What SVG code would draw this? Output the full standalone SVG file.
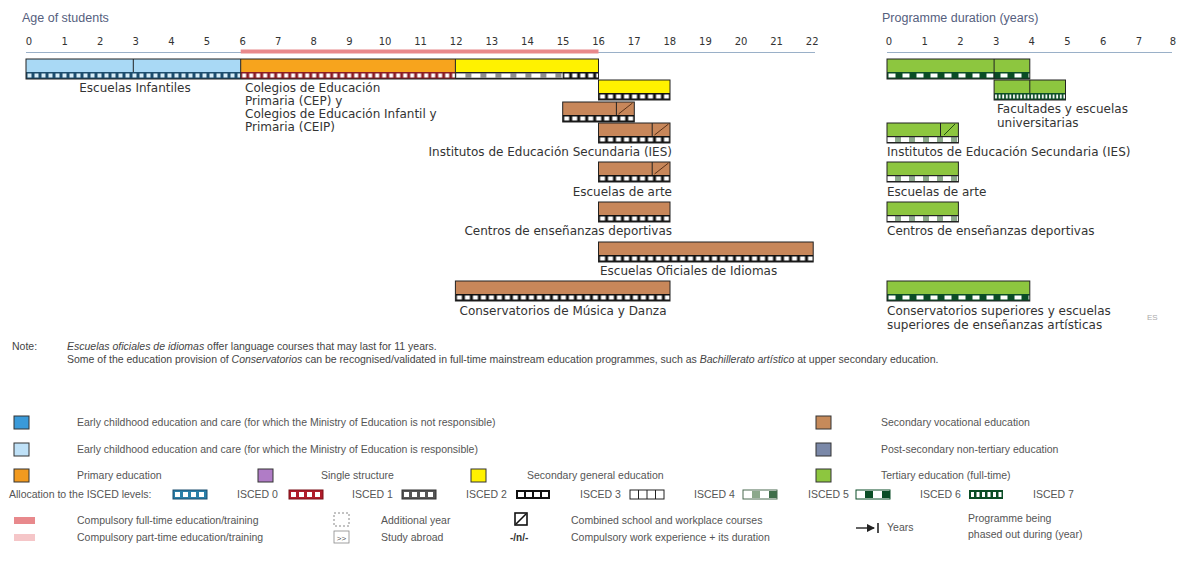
<svg xmlns="http://www.w3.org/2000/svg" width="1178" height="574" viewBox="0 0 1178 574">
<style>
.ax{font-family:"Liberation Sans",Arial,sans-serif;font-size:12.5px;fill:#55607e}
.tk{font-family:"DejaVu Sans",Verdana,sans-serif;font-size:10px;fill:#333;text-anchor:middle}
.lb{font-family:"DejaVu Sans",Verdana,sans-serif;font-size:12px;fill:#333}
.nt{font-family:"Liberation Sans",Arial,sans-serif;font-size:10.5px;fill:#444}
.lg{font-family:"Liberation Sans",Arial,sans-serif;font-size:10.5px;fill:#555}
.frame{fill:none;stroke:#222;stroke-width:1}
.sep{stroke:#222;stroke-width:1}
.blue{fill:#a9d9f5}.orange{fill:#f7a41d}.yellow{fill:#fff200}.brown{fill:#c8875a}.green{fill:#8dc63f}
.hatch{stroke:#5a3218;stroke-width:1;fill:none}
.hatchg{stroke:#1f4d10;stroke-width:1;fill:none}
.sw{stroke:#333;stroke-width:1}
</style>
<defs>
<pattern id="p0" patternUnits="userSpaceOnUse" width="7" height="7"><rect width="7" height="7" fill="#1d4e6e"/><rect x="1.5" y="1.5" width="4" height="4" fill="#d8eef8"/></pattern>
<pattern id="p1" patternUnits="userSpaceOnUse" width="7" height="7"><rect width="7" height="7" fill="#8a1c24"/><rect x="1.5" y="1.5" width="4" height="4" fill="#fff"/></pattern>
<pattern id="p2" patternUnits="userSpaceOnUse" width="15" height="7"><rect width="15" height="7" fill="#8f8f8f"/><rect x="1" y="1.5" width="9" height="4" fill="#fff"/><rect y="0" width="15" height="1.2" fill="#222"/><rect y="6" width="15" height="1" fill="#222"/></pattern>
<pattern id="p3" patternUnits="userSpaceOnUse" width="8" height="7"><rect width="8" height="7" fill="#111"/><rect x="1.5" y="1.5" width="5" height="4" fill="#fff"/></pattern>
<pattern id="p5" patternUnits="userSpaceOnUse" width="14" height="7"><rect width="14" height="7" fill="#fff"/><rect x="8" y="0" width="6" height="7" fill="#8ca88c"/><rect width="14" height="1.2" fill="#222"/><rect y="6" width="14" height="1" fill="#222"/></pattern>
<pattern id="p6" patternUnits="userSpaceOnUse" width="14" height="7"><rect width="14" height="7" fill="#0b4d26"/><rect x="1.5" y="1.5" width="7" height="4" fill="#fff"/></pattern>
<pattern id="p7" patternUnits="userSpaceOnUse" width="3.6" height="7"><rect width="3.6" height="7" fill="#0b4d26"/><rect x="1" y="1.5" width="1.8" height="4" fill="#fff"/></pattern>
<marker id="arr" viewBox="0 0 8 8" refX="7" refY="4" markerWidth="6" markerHeight="6" orient="auto"><path d="M0,0 L8,4 L0,8 z" fill="#222"/></marker>
</defs>

<!-- axes -->
<g id="age-axis">
<text class="ax" x="22" y="22">Age of students</text>
<line x1="26" y1="52.5" x2="815" y2="52.5" stroke="#9ab0c8" stroke-width="1.2"/>
<line x1="240.7" y1="51.5" x2="598.5" y2="51.5" stroke="#e8898c" stroke-width="4"/>
<text class="tk" y="45"><tspan x="29">0</tspan><tspan x="64.6">1</tspan><tspan x="100.2">2</tspan><tspan x="135.8">3</tspan><tspan x="171.4">4</tspan><tspan x="207">5</tspan><tspan x="242.6">6</tspan><tspan x="278.2">7</tspan><tspan x="313.8">8</tspan><tspan x="349.4">9</tspan><tspan x="385">10</tspan><tspan x="420.6">11</tspan><tspan x="456.2">12</tspan><tspan x="491.8">13</tspan><tspan x="527.4">14</tspan><tspan x="563">15</tspan><tspan x="598.6">16</tspan><tspan x="634.2">17</tspan><tspan x="669.8">18</tspan><tspan x="705.4">19</tspan><tspan x="741">20</tspan><tspan x="776.6">21</tspan><tspan x="812.2">22</tspan></text>
</g>
<g id="duration-axis">
<text class="ax" x="882" y="22">Programme duration (years)</text>
<line x1="887" y1="52.5" x2="1172" y2="52.5" stroke="#9ab0c8" stroke-width="1.2"/>
<text class="tk" y="45"><tspan x="889">0</tspan><tspan x="924.7">1</tspan><tspan x="960.4">2</tspan><tspan x="996.1">3</tspan><tspan x="1031.8">4</tspan><tspan x="1067.5">5</tspan><tspan x="1103.2">6</tspan><tspan x="1138.9">7</tspan><tspan x="1173">8</tspan></text>
</g>

<!-- left bars -->
<g id="escuelas-infantiles">
<rect class="blue" x="26" y="59" width="214.7" height="13"/>
<rect x="0" y="0" width="214.7" height="7" fill="url(#p0)" transform="translate(26,72)"/>
<line class="sep" x1="133.3" y1="59" x2="133.3" y2="72"/>
<text class="lb" x="135" y="92" text-anchor="middle">Escuelas Infantiles</text>
</g>
<g id="colegios">
<rect class="orange" x="240.7" y="59" width="214.7" height="13"/>
<rect x="0" y="0" width="214.7" height="7" fill="url(#p1)" transform="translate(240.7,72)"/>
<line class="sep" x1="240.7" y1="59" x2="240.7" y2="79"/>
<text class="lb" x="245" y="92">Colegios de Educación</text>
<text class="lb" x="245" y="105">Primaria (CEP) y</text>
<text class="lb" x="245" y="118">Colegios de Educación Infantil y</text>
<text class="lb" x="245" y="131">Primaria (CEIP)</text>
</g>
<g id="secundaria-general">
<rect class="yellow" x="455.4" y="59" width="143.1" height="13"/>
<rect x="0" y="0" width="107.3" height="7" fill="url(#p2)" transform="translate(455.4,72)"/>
<rect x="0" y="0" width="35.8" height="7" fill="url(#p3)" transform="translate(562.7,72)"/>
<line class="sep" x1="455.4" y1="59" x2="455.4" y2="79"/>
</g>
<rect class="frame" x="26" y="59" width="572.5" height="20"/>

<g id="bachillerato">
<rect class="yellow" x="598.5" y="80" width="71.5" height="13"/>
<rect x="0" y="0" width="71.5" height="7" fill="url(#p3)" transform="translate(598.5,93)"/>
<rect class="frame" x="598.5" y="80" width="71.5" height="20"/>
</g>
<g id="fp-basica">
<rect class="brown" x="562.7" y="102" width="71.6" height="13"/>
<rect x="0" y="0" width="71.6" height="7" fill="url(#p3)" transform="translate(562.7,115)"/>
<line class="sep" x1="616.4" y1="102" x2="616.4" y2="115"/>
<line class="hatch" x1="618.5" y1="114" x2="632.5" y2="103"/>
<rect class="frame" x="562.7" y="102" width="71.6" height="20"/>
</g>
<g id="ies">
<rect class="brown" x="598.5" y="123" width="71.5" height="13"/>
<rect x="0" y="0" width="71.5" height="7" fill="url(#p3)" transform="translate(598.5,136)"/>
<line class="sep" x1="652.2" y1="123" x2="652.2" y2="136"/>
<line class="hatch" x1="654.5" y1="135" x2="668.5" y2="124"/>
<rect class="frame" x="598.5" y="123" width="71.5" height="20"/>
<text class="lb" x="672" y="156" text-anchor="end">Institutos de Educación Secundaria (IES)</text>
</g>
<g id="escuelas-arte">
<rect class="brown" x="598.5" y="162" width="71.5" height="13"/>
<rect x="0" y="0" width="71.5" height="7" fill="url(#p3)" transform="translate(598.5,175)"/>
<line class="sep" x1="652.2" y1="162" x2="652.2" y2="175"/>
<line class="hatch" x1="654.5" y1="174" x2="668.5" y2="163"/>
<rect class="frame" x="598.5" y="162" width="71.5" height="20"/>
<text class="lb" x="672" y="196" text-anchor="end">Escuelas de arte</text>
</g>
<g id="centros-deportivas">
<rect class="brown" x="598.5" y="202" width="71.5" height="13"/>
<rect x="0" y="0" width="71.5" height="7" fill="url(#p3)" transform="translate(598.5,215)"/>
<rect class="frame" x="598.5" y="202" width="71.5" height="20"/>
<text class="lb" x="672" y="235" text-anchor="end">Centros de enseñanzas deportivas</text>
</g>
<g id="escuelas-idiomas">
<rect class="brown" x="598.5" y="242" width="214.7" height="13"/>
<rect x="0" y="0" width="214.7" height="7" fill="url(#p3)" transform="translate(598.5,255)"/>
<rect class="frame" x="598.5" y="242" width="214.7" height="20"/>
<text class="lb" x="600" y="275">Escuelas Oficiales de Idiomas</text>
</g>
<g id="conservatorios">
<rect class="brown" x="455.4" y="281" width="214.6" height="13"/>
<rect x="0" y="0" width="214.6" height="7" fill="url(#p3)" transform="translate(455.4,294)"/>
<rect class="frame" x="455.4" y="281" width="214.6" height="20"/>
<text class="lb" x="563" y="315" text-anchor="middle">Conservatorios de Música y Danza</text>
</g>

<!-- right bars -->
<g id="grado">
<rect class="green" x="887" y="59" width="142.8" height="13"/>
<rect x="0" y="0" width="142.8" height="7" fill="url(#p6)" transform="translate(887,72)"/>
<line class="sep" x1="994.1" y1="59" x2="994.1" y2="79"/>
<rect class="frame" x="887" y="59" width="142.8" height="20"/>
</g>
<g id="facultades">
<rect class="green" x="994.1" y="80" width="71.4" height="13"/>
<rect x="0" y="0" width="71.4" height="7" fill="url(#p7)" transform="translate(994.1,93)"/>
<line class="sep" x1="1029.8" y1="80" x2="1029.8" y2="93"/>
<rect class="frame" x="994.1" y="80" width="71.4" height="20"/>
<text class="lb" x="997" y="113">Facultades y escuelas</text>
<text class="lb" x="997" y="127">universitarias</text>
</g>
<g id="ies-superior">
<rect class="green" x="887" y="123" width="71.4" height="13"/>
<rect x="0" y="0" width="71.4" height="7" fill="url(#p5)" transform="translate(887,136)"/>
<line class="sep" x1="940.5" y1="123" x2="940.5" y2="136"/>
<line class="hatchg" x1="944" y1="135" x2="955" y2="124"/>
<rect class="frame" x="887" y="123" width="71.4" height="20"/>
<text class="lb" x="887" y="156">Institutos de Educación Secundaria (IES)</text>
</g>
<g id="arte-superior">
<rect class="green" x="887" y="162" width="71.4" height="13"/>
<rect x="0" y="0" width="71.4" height="7" fill="url(#p5)" transform="translate(887,175)"/>
<rect class="frame" x="887" y="162" width="71.4" height="20"/>
<text class="lb" x="887" y="196">Escuelas de arte</text>
</g>
<g id="deportivas-superior">
<rect class="green" x="887" y="202" width="71.4" height="13"/>
<rect x="0" y="0" width="71.4" height="7" fill="url(#p5)" transform="translate(887,215)"/>
<rect class="frame" x="887" y="202" width="71.4" height="20"/>
<text class="lb" x="887" y="235">Centros de enseñanzas deportivas</text>
</g>
<g id="conservatorios-superiores">
<rect class="green" x="887" y="281" width="142.8" height="13"/>
<rect x="0" y="0" width="142.8" height="7" fill="url(#p6)" transform="translate(887,294)"/>
<rect class="frame" x="887" y="281" width="142.8" height="20"/>
<text class="lb" x="887" y="315">Conservatorios superiores y escuelas</text>
<text class="lb" x="887" y="329">superiores de enseñanzas artísticas</text>
</g>
<text x="1147" y="320" font-family="Liberation Sans, Arial, sans-serif" font-size="8px" fill="#aaa">ES</text>

<!-- note -->
<g id="note">
<text class="nt" x="12" y="350">Note:</text>
<text class="nt" x="67" y="350"><tspan font-style="italic">Escuelas oficiales de idiomas</tspan> offer language courses that may last for 11 years.</text>
<text class="nt" x="67" y="363">Some of the education provision of <tspan font-style="italic">Conservatorios</tspan> can be recognised/validated in full-time mainstream education programmes, such as <tspan font-style="italic">Bachillerato artístico</tspan> at upper secondary education.</text>
</g>

<!-- legend -->
<g id="legend">
<rect class="sw" x="14" y="416" width="15" height="13" fill="#3a9ad9"/>
<text class="lg" x="77" y="426">Early childhood education and care (for which the Ministry of Education is not responsible)</text>
<rect class="sw" x="14" y="443" width="15" height="13" fill="#bfe1f7"/>
<text class="lg" x="77" y="453">Early childhood education and care (for which the Ministry of Education is responsible)</text>
<rect class="sw" x="14" y="469" width="15" height="13" fill="#f29a1f"/>
<text class="lg" x="77" y="479">Primary education</text>
<rect class="sw" x="258" y="469" width="15" height="13" fill="#b07cc6"/>
<text class="lg" x="321" y="479">Single structure</text>
<rect class="sw" x="471" y="469" width="15" height="13" fill="#fff200"/>
<text class="lg" x="527" y="479">Secondary general education</text>
<rect class="sw" x="816" y="416" width="15" height="13" fill="#c68a5a"/>
<text class="lg" x="881" y="426">Secondary vocational education</text>
<rect class="sw" x="816" y="443" width="15" height="13" fill="#7a88a8"/>
<text class="lg" x="881" y="453">Post-secondary non-tertiary education</text>
<rect class="sw" x="816" y="469" width="15" height="13" fill="#8dc63f"/>
<text class="lg" x="881" y="479">Tertiary education (full-time)</text>

<text class="lg" x="9" y="498">Allocation to the ISCED levels:</text>
<g transform="translate(173,490)"><rect width="34" height="9" fill="#2a7fa8"/><rect x="2" y="2" width="5" height="5" fill="#fff"/><rect x="10" y="2" width="5" height="5" fill="#fff"/><rect x="18" y="2" width="5" height="5" fill="#fff"/><rect x="26" y="2" width="5" height="5" fill="#fff"/><rect width="34" height="9" fill="none" stroke="#1d4e6e"/></g>
<text class="lg" x="237" y="498">ISCED 0</text>
<g transform="translate(289,490)"><rect width="34" height="9" fill="#b01c2a"/><rect x="2" y="2" width="5" height="5" fill="#fff"/><rect x="10" y="2" width="5" height="5" fill="#fff"/><rect x="18" y="2" width="5" height="5" fill="#fff"/><rect x="26" y="2" width="5" height="5" fill="#fff"/><rect width="34" height="9" fill="none" stroke="#7a1018"/></g>
<text class="lg" x="352" y="498">ISCED 1</text>
<g transform="translate(402,490)"><rect width="34" height="9" fill="#555"/><rect x="2" y="2" width="5" height="5" fill="#fff"/><rect x="10" y="2" width="5" height="5" fill="#fff"/><rect x="18" y="2" width="5" height="5" fill="#fff"/><rect x="26" y="2" width="5" height="5" fill="#fff"/><rect width="34" height="9" fill="none" stroke="#333"/></g>
<text class="lg" x="466" y="498">ISCED 2</text>
<g transform="translate(516,490)"><rect width="34" height="9" fill="#111"/><rect x="2" y="2" width="6" height="5" fill="#fff"/><rect x="10" y="2" width="6" height="5" fill="#fff"/><rect x="18" y="2" width="6" height="5" fill="#fff"/><rect x="26" y="2" width="6" height="5" fill="#fff"/></g>
<text class="lg" x="580" y="498">ISCED 3</text>
<g transform="translate(630,490)"><rect width="34" height="9" fill="#fff" stroke="#222"/><line x1="8.5" y1="0" x2="8.5" y2="9" stroke="#222"/><line x1="17" y1="0" x2="17" y2="9" stroke="#222"/><line x1="25.5" y1="0" x2="25.5" y2="9" stroke="#222"/></g>
<text class="lg" x="694" y="498">ISCED 4</text>
<g transform="translate(743,490)"><rect width="34" height="9" fill="#fff"/><rect x="9" y="1" width="8" height="7" fill="#8ca88c"/><rect x="26" y="1" width="8" height="7" fill="#3f6e4a"/><rect width="34" height="9" fill="none" stroke="#4a6a50"/></g>
<text class="lg" x="808" y="498">ISCED 5</text>
<g transform="translate(856,490)"><rect width="34" height="9" fill="#fff"/><rect x="9" y="1" width="8" height="7" fill="#0b4d26"/><rect x="26" y="1" width="8" height="7" fill="#0b4d26"/><rect width="34" height="9" fill="none" stroke="#0b4d26"/></g>
<text class="lg" x="920" y="498">ISCED 6</text>
<g transform="translate(969,490)"><rect width="34" height="9" fill="#0b4d26"/><rect x="2" y="2" width="3" height="5" fill="#fff"/><rect x="7.5" y="2" width="3" height="5" fill="#fff"/><rect x="13" y="2" width="3" height="5" fill="#fff"/><rect x="18.5" y="2" width="3" height="5" fill="#fff"/><rect x="24" y="2" width="3" height="5" fill="#fff"/><rect x="29.5" y="2" width="3" height="5" fill="#fff"/></g>
<text class="lg" x="1033" y="498">ISCED 7</text>

<rect x="14" y="517" width="21" height="7" fill="#e8898c"/>
<text class="lg" x="77" y="524">Compulsory full-time education/training</text>
<rect x="14" y="534" width="21" height="7" fill="#f5c6c8"/>
<text class="lg" x="77" y="541">Compulsory part-time education/training</text>
<rect x="334" y="513" width="15" height="13" fill="none" stroke="#888" stroke-dasharray="2,2"/>
<text class="lg" x="381" y="524">Additional year</text>
<rect x="334" y="531" width="15" height="12" fill="none" stroke="#888" stroke-width="0.8"/>
<text x="341.5" y="540.5" font-family="Liberation Sans, Arial, sans-serif" font-size="8px" fill="#555" text-anchor="middle">&gt;&gt;</text>
<text class="lg" x="381" y="541">Study abroad</text>
<rect x="515" y="513" width="12" height="12" fill="#fff" stroke="#111" stroke-width="1.6"/>
<line x1="516" y1="524" x2="526" y2="514" stroke="#111" stroke-width="1.6"/>
<text class="lg" x="571" y="524">Combined school and workplace courses</text>
<text x="510" y="541" font-family="Liberation Sans, Arial, sans-serif" font-size="10px" font-weight="bold" fill="#333">-/n/-</text>
<text class="lg" x="571" y="541">Compulsory work experience + its duration</text>
<line x1="856" y1="528" x2="874" y2="528" stroke="#222" stroke-width="1.4" marker-end="url(#arr)"/>
<line x1="878" y1="523" x2="878" y2="533" stroke="#222" stroke-width="1.6"/>
<text class="lg" x="887" y="531">Years</text>
<text class="lg" x="968" y="522">Programme being</text>
<text class="lg" x="968" y="538">phased out during (year)</text>
</g>
</svg>
